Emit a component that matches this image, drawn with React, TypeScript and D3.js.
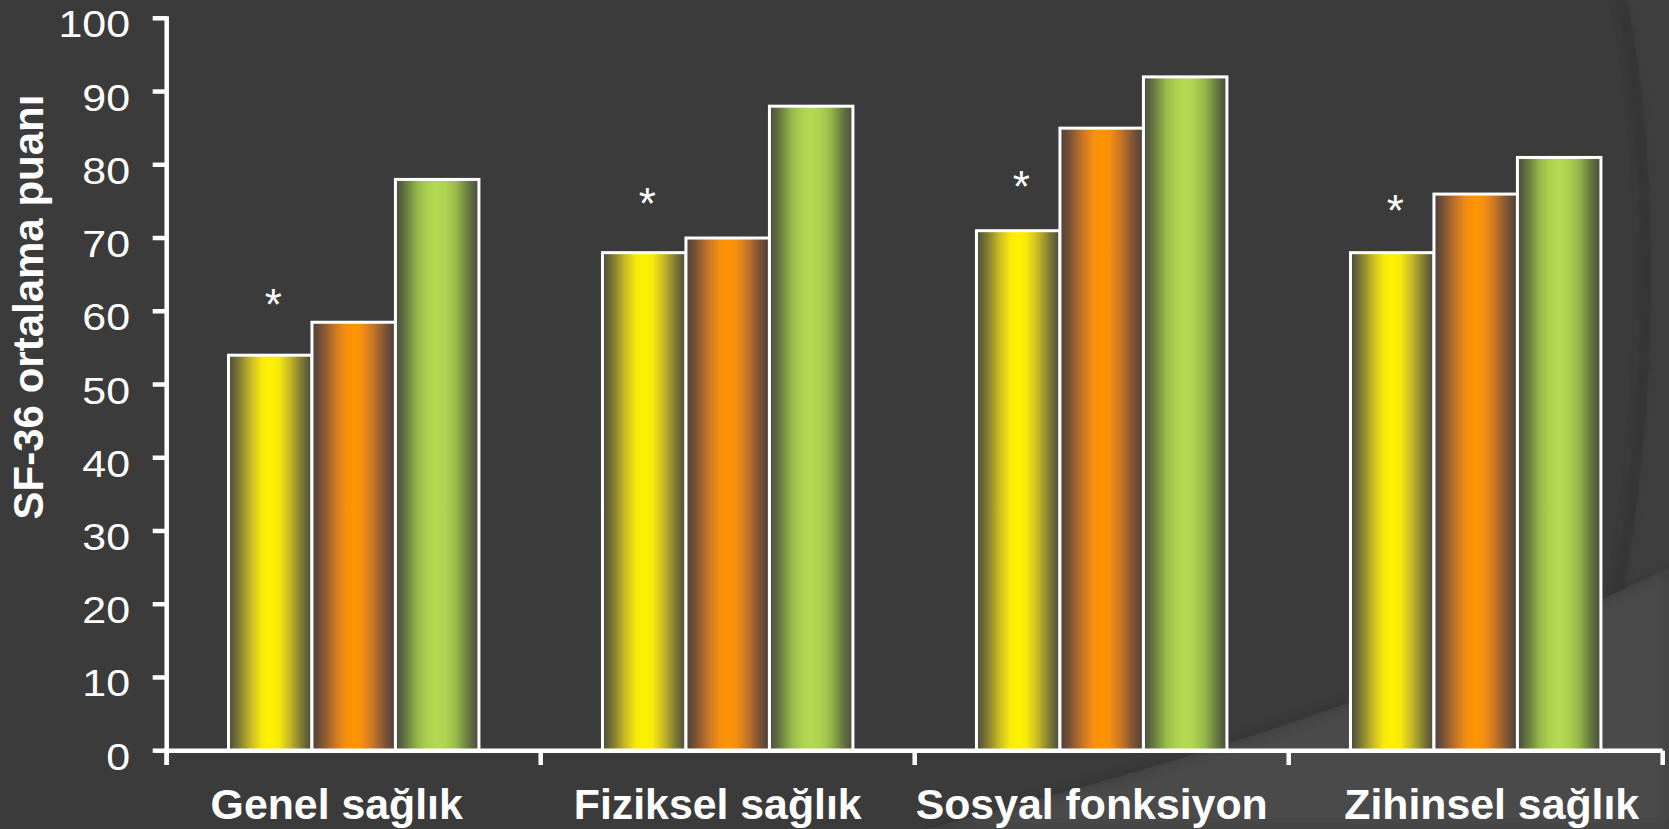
import React from 'react';
import * as d3 from 'd3';

// ---- data ----
const categories = ['Genel sağlık', 'Fiziksel sağlık', 'Sosyal fonksiyon', 'Zihinsel sağlık'];
const seriesKeys = ['g1', 'g2', 'g3'];
const series1 = [54, 68, 71, 68];
const series2 = [58.5, 70, 85, 76];
const series3 = [78, 88, 92, 81];
const starLevels = [62.3, 76.1, 78.3, 75.1]; // "*" markers above series1
const yTicks = [0, 10, 20, 30, 40, 50, 60, 70, 80, 90, 100];
const yLabel = 'SF-36 ortalama puanı';

// layout nudges for the category labels (as placed in the original slide)
const labelNudge = [-17, -10, -10, 16];

const W = 1669;
const H = 829;
const FONT = '"Liberation Sans", Arial, Helvetica, sans-serif';

const gradientStops: Record<string, [number, string][]> = {
  g1: [
    [0, '#4a4a3e'], [0.12, '#7b7834'], [0.27, '#c8ba25'], [0.4, '#f8e90c'], [0.5, '#fff200'],
    [0.6, '#f8e90c'], [0.73, '#c8ba25'], [0.88, '#7b7834'], [1, '#4a4a3e'],
  ],
  g2: [
    [0, '#4d3f3e'], [0.12, '#7c5334'], [0.27, '#c87526'], [0.4, '#f58f10'], [0.5, '#ff9500'],
    [0.6, '#f58f10'], [0.73, '#c87526'], [0.88, '#7c5334'], [1, '#4d3f3e'],
  ],
  g3: [
    [0, '#474b41'], [0.12, '#66773f'], [0.27, '#97b94b'], [0.4, '#afd350'], [0.5, '#b4d953'],
    [0.6, '#afd350'], [0.73, '#97b94b'], [0.88, '#66773f'], [1, '#474b41'],
  ],
};

export default function App() {
  const y = d3.scaleLinear().domain([0, 100]).range([750.7, 18.3]);
  const x0 = d3.scaleBand<string>().domain(categories).range([166.7, 1662.7]).paddingInner(0).paddingOuter(0);
  const x1 = d3.scaleBand<string>().domain(seriesKeys).range([0, x0.bandwidth()]).paddingInner(0).paddingOuter(0.74);
  const values = [series1, series2, series3];
  const axisX = x0.range()[0];
  const axisY = y(0);
  const boundaries = [...categories.map((c) => x0(c) as number), x0.range()[1]];

  // decorative background shapes
  const lowerRegion = d3.path();
  lowerRegion.moveTo(927, H);
  lowerRegion.bezierCurveTo(1177, 764, 1419, 692, W, 567);
  lowerRegion.lineTo(W, H);
  lowerRegion.closePath();

  const arcRegion = d3.path();
  arcRegion.moveTo(1627, 0);
  arcRegion.bezierCurveTo(1675, 250, 1650, 600, 1557, H);
  arcRegion.lineTo(W, H);
  arcRegion.lineTo(W, 0);
  arcRegion.closePath();

  const arcLine = d3.path();
  arcLine.moveTo(1627, 0);
  arcLine.bezierCurveTo(1675, 250, 1650, 600, 1557, H);

  return (
    <svg
      width={W}
      height={H}
      style={{ position: 'fixed', left: 0, top: 0, display: 'block' }}
      fontFamily={FONT}
    >
      <defs>
        {seriesKeys.map((k) => (
          <linearGradient key={k} id={`grad-${k}`} x1="0" y1="0" x2="1" y2="0">
            {gradientStops[k].map(([o, c], i) => (
              <stop key={i} offset={o} stopColor={c} />
            ))}
          </linearGradient>
        ))}
        <filter id="soft" x="-10%" y="-10%" width="120%" height="120%">
          <feGaussianBlur stdDeviation="4" />
        </filter>
      </defs>

      <rect x={0} y={0} width={W} height={H} fill="#3b3b3b" />
      <path d={arcRegion.toString()} fill="#3f3f3f" />
      <path d={arcLine.toString()} fill="none" stroke="#2a2a2a" strokeWidth={8} opacity={0.5} filter="url(#soft)" transform="translate(-5,0)" />
      <path d={lowerRegion.toString()} fill="#4a4a4a" />
      <path d={lowerRegion.toString()} fill="none" stroke="#2e2e2e" strokeWidth={6} opacity={0.45} filter="url(#soft)" />

      {/* bars */}
      {categories.map((c, ci) => (
        <g key={c} transform={`translate(${x0(c)},0)`}>
          {seriesKeys.map((k, si) => {
            const v = values[si][ci];
            return (
              <rect
                key={k}
                x={x1(k)}
                y={y(v)}
                width={x1.bandwidth()}
                height={y(0) - y(v)}
                fill={`url(#grad-${k})`}
                stroke="#ffffff"
                strokeWidth={3}
              />
            );
          })}
          <text
            x={(x1('g1') as number) + x1.bandwidth() / 2 + 3}
            y={y(starLevels[ci]) + 0.573 * 44}
            fontSize={44}
            fill="#ffffff"
            textAnchor="middle"
          >
            *
          </text>
        </g>
      ))}

      {/* y axis */}
      <g stroke="#ffffff" strokeWidth={4.5}>
        <line x1={axisX} x2={axisX} y1={y(100) - 2} y2={765} />
        {yTicks.map((t) => (
          <line key={t} x1={152.7} x2={axisX} y1={y(t)} y2={y(t)} />
        ))}
        <line x1={axisX} x2={x0.range()[1]} y1={axisY} y2={axisY} />
        {boundaries.map((b, i) => (
          <line key={i} x1={b} x2={b} y1={axisY} y2={765} />
        ))}
      </g>
      {yTicks.map((t) => (
        <text
          key={t}
          transform={`translate(130,${y(t) + 19}) scale(1.16,1)`}
          fontSize={37}
          fill="#ffffff"
          textAnchor="end"
        >
          {t}
        </text>
      ))}

      {/* category labels */}
      {categories.map((c, i) => (
        <text
          key={c}
          x={(x0(c) as number) + x0.bandwidth() / 2 + labelNudge[i]}
          y={819}
          fontSize={42.8}
          fontWeight="bold"
          fill="#ffffff"
          textAnchor="middle"
        >
          {c}
        </text>
      ))}

      {/* y label */}
      <text
        transform={`translate(43,307) rotate(-90)`}
        fontSize={42}
        fontWeight="bold"
        fill="#ffffff"
        textAnchor="middle"
      >
        {yLabel}
      </text>
    </svg>
  );
}
